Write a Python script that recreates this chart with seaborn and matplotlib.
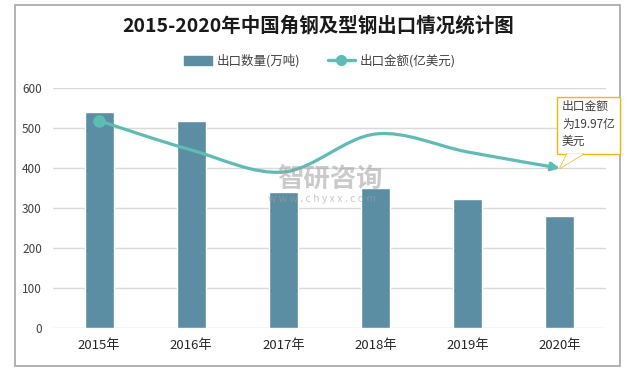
import matplotlib
matplotlib.use("Agg")
import matplotlib.pyplot as plt
import seaborn as sns
import numpy as np
import pandas as pd
from matplotlib.path import Path
from matplotlib.patches import FancyArrowPatch, Rectangle, Polygon, Patch
from matplotlib.lines import Line2D

# Data
years = ["2015年", "2016年", "2017年", "2018年", "2019年", "2020年"]
volume = [540, 517, 340, 350, 323, 280]          # 出口数量(万吨)
amount = [25.9, 22.25, 19.5, 24.25, 22.0, 19.97]  # 出口金额(亿美元)

bar_color = "#5b8ea3"
line_color = "#5cbdb3"
note_color = "#f5b800"

sns.set_style("white")
plt.rcParams['font.family'] = ['Noto Sans CJK SC', 'DejaVu Sans']

W, H = 627, 370
fig = plt.figure(figsize=(W / 100, H / 100), dpi=100)

def fx(px):
    return px / W

def fy(py):
    return 1 - py / H

# Outer frame
fig.patches.append(Rectangle((fx(15), fy(366)), fx(620) - fx(15), fy(5) - fy(366),
                             transform=fig.transFigure, fill=False, ec="#a6a6a6", lw=1.2))

ax = fig.add_axes([fx(53), fy(328), fx(606) - fx(53), fy(88) - fy(328)])

df = pd.DataFrame({"year": years, "volume": volume})
sns.barplot(data=df, x="year", y="volume", color=bar_color, saturation=1,
            width=0.315, ax=ax)
ax.set_ylim(0, 600)
ax.set_xlim(-0.5, 5.5)
ax.set_yticks(range(0, 601, 100))
ax.set_xlabel("")
ax.set_ylabel("")
ax.grid(axis="y", color="#d9d9d9", lw=1)
ax.set_axisbelow(True)
for s in ax.spines.values():
    s.set_visible(False)
ax.tick_params(axis="y", length=0, labelsize=8.5, colors="#404040", pad=8)
ax.tick_params(axis="x", length=0, labelsize=9.5, colors="#262626", pad=8)

# Hidden secondary axis for export amount
ax2 = ax.twinx()
ax2.set_ylim(0, 30)
ax2.set_axis_off()

# Smoothed curve (Catmull-Rom as cubic Bezier) through the data points
pts = np.column_stack([np.arange(len(amount)), amount]).astype(float)
verts = [pts[0]]
codes = [Path.MOVETO]
for i in range(len(pts) - 1):
    p0 = pts[max(i - 1, 0)]
    p1 = pts[i]
    p2 = pts[i + 1]
    p3 = pts[min(i + 2, len(pts) - 1)]
    verts += [p1 + (p2 - p0) / 6, p2 - (p3 - p1) / 6, p2]
    codes += [Path.CURVE4] * 3
curve = FancyArrowPatch(path=Path(verts, codes), arrowstyle="-|>", mutation_scale=12,
                        color=line_color, lw=2.3, transform=ax2.transData, zorder=5)
ax2.add_patch(curve)
ax2.plot([0], [amount[0]], "o", color=line_color, ms=8, zorder=6)

# Callout for 2020 amount
tip = fig.transFigure.inverted().transform(ax2.transData.transform((5, amount[-1])))
fig.patches.append(Rectangle((fx(557), fy(154)), fx(620) - fx(557), fy(97) - fy(154),
                             transform=fig.transFigure, fc="white", ec=note_color, lw=1))
fig.patches.append(Polygon([(fx(567), fy(154)), (fx(583), fy(154)), tip],
                           closed=True, transform=fig.transFigure, fc="white", ec="none", zorder=3))
fig.lines.append(Line2D([fx(567), tip[0], fx(583)], [fy(154), tip[1], fy(154)],
                        transform=fig.transFigure, color=note_color, lw=1))
fig.text(fx(562), fy(100), "出口金额\n为%.2f亿\n美元" % amount[-1], fontsize=8.5,
         color="#404040", va="top", ha="left", linespacing=1.45, zorder=4)

# Watermark
fig.text(fx(330), fy(180), "智研咨询", fontsize=19, color="#a0a0a0", alpha=0.55,
         ha="center", va="center", fontweight="bold")
fig.text(fx(322), fy(199), "w w w . c h y x x . c o m", fontsize=7.5, color="#a0a0a0",
         alpha=0.55, ha="center", va="center")

# Title
fig.text(fx(318), fy(26), "2015-2020年中国角钢及型钢出口情况统计图", fontsize=14,
         fontweight="bold", color="#1a1a1a", ha="center", va="center")

# Legend
handles = [Patch(color=bar_color, label="出口数量(万吨)"),
           Line2D([], [], color=line_color, lw=2.4, marker="o", ms=7, label="出口金额(亿美元)")]
fig.legend(handles=handles, loc="center", bbox_to_anchor=(fx(320), fy(61)), ncol=2,
           frameon=False, fontsize=9, handlelength=2.2, columnspacing=2.2,
           handletextpad=0.4, labelcolor="#404040")

fig.savefig("out.png", dpi=100)
